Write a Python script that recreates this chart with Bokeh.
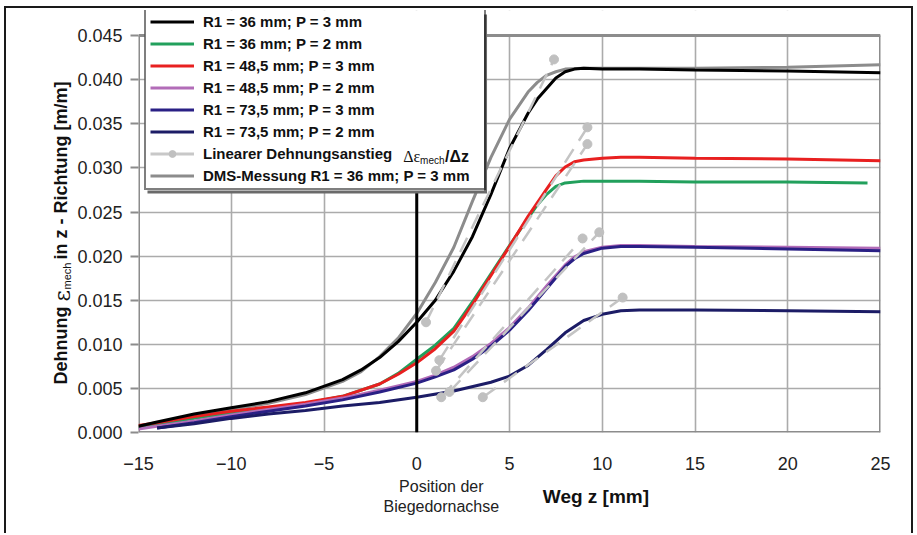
import math
from bokeh.plotting import figure
from bokeh.layouts import row, column
from bokeh.models import (Range1d, FixedTicker, NumeralTickFormatter, Legend,
                          LegendItem, Label)
from bokeh.embed import file_html
from bokeh.resources import INLINE

# ---------------- data ----------------
x_ticks = [-15, -10, -5, 0, 5, 10, 15, 20, 25]
y_ticks = [0.0, 0.005, 0.010, 0.015, 0.020, 0.025, 0.030, 0.035, 0.040, 0.045]

z_black = [-15, -14, -12, -10, -8, -6, -4, -3, -2, -1, 0, 1, 2, 3, 4, 5, 6, 6.5, 7, 7.5, 8, 8.5, 9, 10, 12, 15, 20, 25]
e_black = [0.0007, 0.0012, 0.0021, 0.0028, 0.0035, 0.0045, 0.0060, 0.0071, 0.0085, 0.0103, 0.0125, 0.0150,
           0.0183, 0.0222, 0.0270, 0.0322, 0.0362, 0.0378, 0.0390, 0.0402, 0.0409, 0.0412, 0.0413, 0.0412,
           0.0412, 0.0411, 0.0410, 0.0408]

z_green = [-15, -14, -12, -10, -8, -6, -4, -2, -1, 0, 1, 2, 3, 4, 5, 6, 6.5, 7, 7.5, 8, 9, 10, 12, 15, 20, 24.3]
e_green = [0.0005, 0.0009, 0.0016, 0.0022, 0.0027, 0.0033, 0.0041, 0.0055, 0.0067, 0.0083, 0.0099, 0.0118,
           0.0148, 0.0180, 0.0212, 0.0243, 0.0258, 0.0270, 0.0279, 0.0283, 0.0285, 0.0285, 0.0285, 0.0284,
           0.0284, 0.0283]

z_red = [-15, -14, -12, -10, -8, -6, -4, -2, -1, 0, 1, 2, 3, 4, 5, 6, 7, 7.5, 8, 8.5, 9, 10, 11, 12, 15, 20, 25]
e_red = [0.0008, 0.0011, 0.0018, 0.0024, 0.0029, 0.0034, 0.0041, 0.0055, 0.0066, 0.0079, 0.0095, 0.0115,
         0.0145, 0.0178, 0.0211, 0.0245, 0.0276, 0.0291, 0.0301, 0.0307, 0.0309, 0.0311, 0.0312, 0.0312,
         0.0311, 0.0310, 0.0308]

z_purple = [-15, -14, -12, -10, -8, -6, -4, -2, 0, 1, 2, 3, 4, 5, 6, 7, 8, 8.5, 9, 10, 11, 12, 15, 20, 25]
e_purple = [0.0004, 0.0007, 0.0013, 0.0020, 0.0026, 0.0032, 0.0039, 0.0048, 0.0058, 0.0065, 0.0074, 0.0086,
            0.0101, 0.0119, 0.0141, 0.0166, 0.0190, 0.0199, 0.0205, 0.0210, 0.0212, 0.0212, 0.0211, 0.0210,
            0.0209]

z_navy1 = [-14, -12, -10, -8, -6, -4, -2, 0, 1, 2, 3, 4, 5, 6, 7, 8, 8.5, 9, 10, 11, 12, 15, 20, 25]
e_navy1 = [0.0005, 0.0011, 0.0018, 0.0024, 0.0030, 0.0037, 0.0046, 0.0056, 0.0063, 0.0071, 0.0083, 0.0098,
           0.0116, 0.0138, 0.0163, 0.0188, 0.0197, 0.0203, 0.0209, 0.0211, 0.0211, 0.0210, 0.0208, 0.0206]

z_navy2 = [-14, -12, -10, -8, -6, -4, -2, 0, 2, 4, 5, 6, 7, 8, 9, 10, 11, 12, 15, 20, 25]
e_navy2 = [0.0005, 0.0010, 0.0016, 0.0021, 0.0025, 0.0030, 0.0034, 0.0040, 0.0047, 0.0057, 0.0064, 0.0076,
           0.0094, 0.0113, 0.0127, 0.0134, 0.0138, 0.0139, 0.0139, 0.0138, 0.0137]

z_dms = [-14, -12, -10, -8, -6, -4, -3, -2, -1, 0, 1, 2, 3, 4, 5, 6, 6.5, 7, 7.5, 8, 9, 10, 15, 20, 25]
e_dms = [0.0010, 0.0019, 0.0026, 0.0033, 0.0043, 0.0058, 0.0069, 0.0086, 0.0107, 0.0135, 0.0170, 0.0210,
         0.0262, 0.0312, 0.0355, 0.0386, 0.0397, 0.0405, 0.0409, 0.0412, 0.0413, 0.0413, 0.0413, 0.0414, 0.0417]

# linear strain-rise segments (start / end)
lin_z0 = [0.5, 1.22, 1.04, 1.32, 1.76, 3.56]
lin_e0 = [0.0125, 0.0082, 0.0070, 0.0040, 0.0046, 0.0040]
lin_z1 = [7.4, 9.2, 9.2, 8.94, 9.84, 11.1]
lin_e1 = [0.0423, 0.0346, 0.0327, 0.0220, 0.0227, 0.0153]

labels = ["R1 = 36 mm; P = 3 mm", "R1 = 36 mm; P = 2 mm", "R1 = 48,5 mm; P = 3 mm",
          "R1 = 48,5 mm; P = 2 mm", "R1 = 73,5 mm; P = 3 mm", "R1 = 73,5 mm; P = 2 mm",
          "Linearer Dehnungsanstieg", "DMS-Messung R1 = 36 mm; P = 3 mm"]

FONT = "Liberation Sans"
# page-pixel scale of the main frame (frame left 137, bottom 432)
PX_PER_Z = 18.575
PX_PER_E = 44.1 / 0.005
Y_TOP = (432 - 10) / PX_PER_E   # frame extends a little above 0.045 so the legend fits


def dx(px):
    return -15 + (px - 137) / PX_PER_Z


def dy(py):
    return (432 - py) / PX_PER_E


# ---------------- main figure (page x 74..911, y 8..477) ----------------
p = figure(width=837, height=469, output_backend="svg", toolbar_location=None,
           x_range=Range1d(-15, 25), y_range=Range1d(0, Y_TOP),
           min_border_left=63, min_border_right=31, min_border_top=2, min_border_bottom=45)
p.background_fill_color = "white"
p.border_fill_color = "white"
p.outline_line_color = None

p.xaxis.ticker = FixedTicker(ticks=x_ticks)
p.yaxis.ticker = FixedTicker(ticks=y_ticks)
p.yaxis.formatter = NumeralTickFormatter(format="0.000")
for ax in (p.xaxis, p.yaxis):
    ax.axis_line_color = None
    ax.minor_tick_line_color = None
    ax.major_label_text_font = FONT
    ax.major_label_text_font_size = "18px"
    ax.major_label_text_color = "#222222"
    ax.major_tick_line_color = "#8c8c8c"
    ax.major_tick_line_width = 2
    ax.major_tick_in = 0
p.yaxis.major_tick_out = 8
p.yaxis.major_label_standoff = 8
p.xaxis.major_tick_out = 0
p.xaxis.major_label_standoff = 24

p.xgrid.ticker = FixedTicker(ticks=x_ticks)
p.ygrid.ticker = FixedTicker(ticks=y_ticks)
p.grid.grid_line_color = "#ababab"
p.grid.grid_line_width = 1.6

# white strip above 0.045 (room for the legend) and the grey plot-area frame
p.quad(left=[-15], right=[25], bottom=[y_ticks[-1]], top=[Y_TOP], fill_color="white", line_color=None)
p.segment(x0=[-15, -15, -15, 25], y0=[0, y_ticks[-1], 0, 0],
          x1=[25, 25, -15, 25], y1=[0, y_ticks[-1], y_ticks[-1], y_ticks[-1]],
          line_color="#8c8c8c", line_width=3)

W = 3
r_dms = p.line(z_dms, e_dms, line_color="#8c8c8c", line_width=W)
r_green = p.line(z_green, e_green, line_color="#22a05c", line_width=W)
r_red = p.line(z_red, e_red, line_color="#e82020", line_width=W)
r_purple = p.line(z_purple, e_purple, line_color="#b26cb8", line_width=W)
r_navy1 = p.line(z_navy1, e_navy1, line_color="#2a2085", line_width=W)
r_navy2 = p.line(z_navy2, e_navy2, line_color="#1c1c66", line_width=W)
r_black = p.line(z_black, e_black, line_color="black", line_width=W)

p.segment(lin_z0, lin_e0, lin_z1, lin_e1, line_color="#c4c4c4", line_width=2.5, line_dash="16 10")
r_mk = p.scatter(lin_z0 + lin_z1, lin_e0 + lin_e1, size=9, marker="circle",
                 fill_color="#c0c0c0", line_color="#c0c0c0")
# legend swatch for the linear segments (solid grey line, zero length on the plot)
r_lin_key = p.line(lin_z0[:1] * 2, lin_e0[:1] * 2, line_color="#c8c8c8", line_width=3)

p.line([0, 0], [0, y_ticks[-1]], line_color="black", line_width=3)

# legend shadow + white background (glyphs, so the formula overlay can sit on top)
p.quad(left=[dx(146)], right=[dx(486)], bottom=[dy(193)], top=[dy(14)],
       fill_color="#6a6a6a", line_color=None)
p.quad(left=[dx(143)], right=[dx(483)], bottom=[dy(190)], top=[dy(11)],
       fill_color="white", line_color=None)

legend = Legend(items=[
    LegendItem(label=labels[0], renderers=[r_black]),
    LegendItem(label=labels[1], renderers=[r_green]),
    LegendItem(label=labels[2], renderers=[r_red]),
    LegendItem(label=labels[3], renderers=[r_purple]),
    LegendItem(label=labels[4], renderers=[r_navy1]),
    LegendItem(label=labels[5], renderers=[r_navy2]),
    LegendItem(label=labels[6] + "\u00a0" * 21, renderers=[r_lin_key, r_mk]),
    LegendItem(label=labels[7], renderers=[r_dms]),
], location=(6, 242))
legend.label_text_font = FONT
legend.label_text_font_style = "bold"
legend.label_text_font_size = "15px"
legend.label_text_color = "#111111"
legend.border_line_color = "black"
legend.border_line_width = 2
legend.background_fill_alpha = 0
legend.glyph_width = 44
legend.glyph_height = 17
legend.label_height = 17
legend.spacing = 5
legend.padding = 4
legend.margin = 0
legend.label_standoff = 9
p.add_layout(legend)


def lab(fig, text, x, y, size, style="normal", font=FONT, angle=0.0, align="left",
        baseline="middle", color="#111111"):
    fig.add_layout(Label(x=x, y=y, text=text, text_font=font, text_font_size=size,
                         text_font_style=style, text_align=align, text_baseline=baseline,
                         angle=angle, text_color=color))


# legend formula  Δε_mech/Δz
lab(p, "Δε", dx(402), dy(155.5), "16px", font="Liberation Serif")
lab(p, "mech", dx(419), dy(160), "10px")
lab(p, "/Δz", dx(444), dy(155.5), "16px", style="bold")


def side_fig(w, h, x0, x1, y0, y1):
    f = figure(width=w, height=h, output_backend="svg", toolbar_location=None,
               x_range=Range1d(x0, x1), y_range=Range1d(-y1, -y0),
               x_axis_type=None, y_axis_type=None,
               min_border_left=0, min_border_right=0, min_border_top=0, min_border_bottom=0)
    f.outline_line_color = None
    f.background_fill_color = "white"
    f.border_fill_color = "white"
    f.grid.visible = False
    return f


# ---------------- y-axis title strip (page x 6..74, y 8..533) ----------------
left = side_fig(68, 525, 6, 74, 8, 533)
A = math.pi / 2
lab(left, "Dehnung", 60, -384, "18px", style="bold", angle=A, baseline="alphabetic")
lab(left, "ε", 62, -301, "22px", font="DejaVu Serif", angle=A, baseline="alphabetic")
lab(left, "mech", 66, -289, "11px", angle=A, baseline="alphabetic")
lab(left, "in z - Richtung [m/m]", 60, -259, "18px", style="bold", angle=A, baseline="alphabetic")

# ---------------- x-axis annotation strip (page x 74..911, y 477..533) ----------------
bottom = side_fig(837, 56, 74, 911, 477, 533)
lab(bottom, "Position der", 415.6, -486, "16px", align="center", color="#222222")
lab(bottom, "Biegedornachse", 415.6, -506, "16px", align="center", color="#222222")
lab(bottom, "Weg z [mm]", 590, -496, "19px", style="bold", align="center")

layout = row(left, column(p, bottom, spacing=0), spacing=0)
layout.styles = {"border-left": "2px solid #1a1a1a", "border-top": "2px solid #1a1a1a",
                 "border-right": "2px solid #1a1a1a", "margin-left": "4px", "margin-top": "6px"}

open("out.html", "w").write(file_html(layout, INLINE))
